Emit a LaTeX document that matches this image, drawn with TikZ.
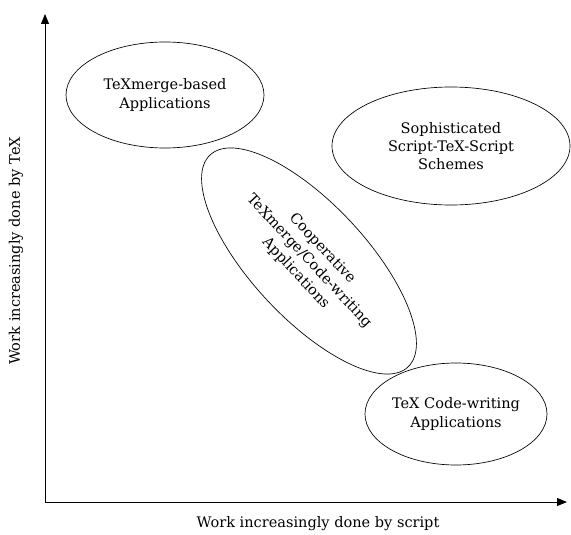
\documentclass[tikz,border=0pt]{standalone}
\usepackage{fontspec}
\setmainfont{DejaVu Serif}
\usetikzlibrary{shapes.geometric,arrows.meta}

\tikzset{
	bubble/.style={draw, ellipse, inner sep=0pt, line width=0.5pt, align=center, font=\fontsize{10.9}{13.6}\selectfont},
	axislabel/.style={inner sep=0.75pt, font=\fontsize{10.9}{13}\selectfont}
}

\begin{document}
\begin{tikzpicture}[x=0.75pt,y=0.75pt,yscale=-1]
	\useasboundingbox (0,0) rectangle (571,535);
	
	%Shape: Axis 2D
	\coordinate (origin) at (45,502);
	\coordinate (ytop) at (45,14);
	\coordinate (xend) at (567,502);
	\draw [line width=0.75, -{Triangle[length=7.5pt,width=6pt]}] (origin) -- (ytop) ;
	\draw [line width=0.75, -{Triangle[length=7.5pt,width=6pt]}] (origin) -- (xend) ;
	
	%Shape: Ellipse
	\node [bubble, minimum width=148.5pt, minimum height=79.5pt] (merge) at (165,95) {TeXmerge-based\\Applications};
	%Shape: Ellipse
	\node [bubble, minimum width=178.5pt, minimum height=88.5pt] (schemes) at (451,146) {Sophisticated\\Script-TeX-Script\\Schemes};
	%Shape: Ellipse
	\node [bubble, minimum width=217.5pt, minimum height=86pt, rotate=-47] (coop) at (309,261) {Cooperative\\TeXmerge/Code-writing\\Applications};
	%Shape: Ellipse
	\node [bubble, minimum width=136.5pt, minimum height=76.5pt] (codewriting) at (456,414) {TeX Code-writing\\Applications};
	
	% Text Node
	\node [axislabel, rotate=90] (ylabel) at (16,251) {Work increasingly done by TeX};
	% Text Node
	\node [axislabel] (xlabel) at (318,524) {Work increasingly done by script};
	
\end{tikzpicture}
\end{document}
